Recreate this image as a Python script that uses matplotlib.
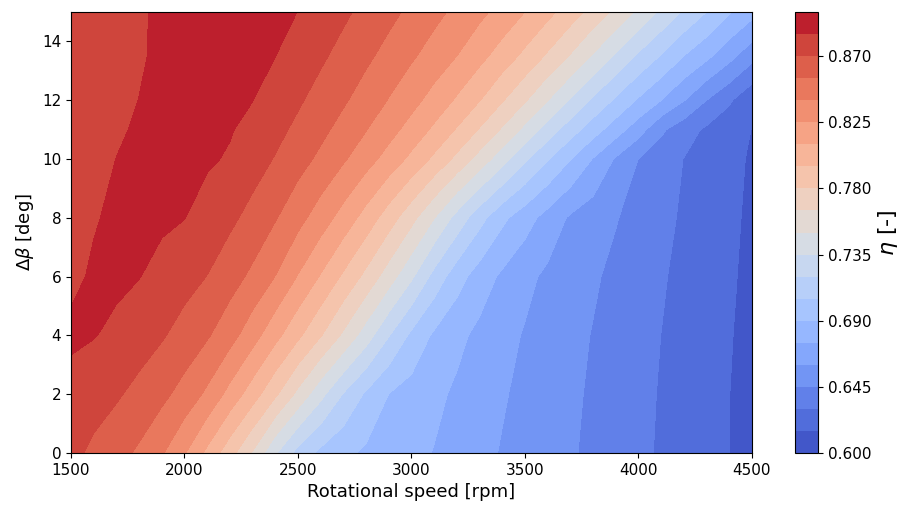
import numpy as np
import matplotlib
matplotlib.use('Agg')
import matplotlib.pyplot as plt

# ------------------------------------------------------------
# Data: efficiency eta on a rpm x dBeta grid
# ------------------------------------------------------------

rpm = [1500, 1600, 1700, 1800, 1900, 2000, 2100, 2200, 2300, 2400, 2500,
       2600, 2700, 2800, 2900, 3000, 3100, 3200, 3300, 3400, 3500,
       3600, 3700, 3800, 3900, 4000, 4100, 4200, 4300, 4400, 4500]

delta_beta = [0, 2, 4, 6, 8, 10, 11, 12, 13.5, 15]

eta_d0 = [0.8740, 0.8668, 0.8602, 0.8526, 0.8415, 0.8261, 0.8065, 0.7857, 0.7638, 0.7367, 0.7148,
          0.7013, 0.6933, 0.6875, 0.6831, 0.6788, 0.6744, 0.6692, 0.6639, 0.6590, 0.6548,
          0.6506, 0.6465, 0.6420, 0.6375, 0.6330, 0.6284, 0.6240, 0.6196, 0.6151, 0.6107]
eta_d2 = [0.8810, 0.8764, 0.8718, 0.8657, 0.8587, 0.8495, 0.8370, 0.8199, 0.8021, 0.7826, 0.7611,
          0.7394, 0.7190, 0.7027, 0.6898, 0.6840, 0.6783, 0.6726, 0.6670, 0.6613, 0.6566,
          0.6521, 0.6476, 0.6430, 0.6383, 0.6337, 0.6290, 0.6244, 0.6198, 0.6151, 0.6105]
eta_d4 = [0.8870, 0.8856, 0.8821, 0.8768, 0.8714, 0.8644, 0.8566, 0.8457, 0.8311, 0.8146, 0.7981,
          0.7810, 0.7623, 0.7423, 0.7207, 0.7017, 0.6875, 0.6787, 0.6713, 0.6648, 0.6588,
          0.6539, 0.6491, 0.6443, 0.6395, 0.6347, 0.6299, 0.6252, 0.6205, 0.6158, 0.6110]
eta_d6 = [0.8829, 0.8862, 0.8876, 0.8854, 0.8806, 0.8752, 0.8697, 0.8612, 0.8518, 0.8397, 0.8241,
          0.8087, 0.7925, 0.7758, 0.7572, 0.7374, 0.7149, 0.6962, 0.6828, 0.6723, 0.6638,
          0.6571, 0.6520, 0.6468, 0.6417, 0.6365, 0.6314, 0.6264, 0.6215, 0.6167, 0.6118]
eta_d8 = [0.8800, 0.8843, 0.8867, 0.8887, 0.8873, 0.8853, 0.8795, 0.8731, 0.8653, 0.8561, 0.8449,
          0.8326, 0.8191, 0.8041, 0.7873, 0.7697, 0.7504, 0.7298, 0.7103, 0.6934, 0.6814,
          0.6692, 0.6579, 0.6519, 0.6458, 0.6398, 0.6338, 0.6281, 0.6229, 0.6177, 0.6125]
eta_d10 = [0.8790, 0.8820, 0.8851, 0.8871, 0.8892, 0.8888, 0.8867, 0.8837, 0.8764, 0.8691, 0.8607,
           0.8518, 0.8418, 0.8310, 0.8193, 0.8063, 0.7918, 0.7761, 0.7593, 0.7411, 0.7226,
           0.7061, 0.6905, 0.6742, 0.6583, 0.6448, 0.6372, 0.6297, 0.6243, 0.6188, 0.6134]
eta_d11 = [0.8785, 0.8812, 0.8838, 0.8861, 0.8881, 0.8899, 0.8879, 0.8859, 0.8812, 0.8742, 0.8667,
           0.8587, 0.8499, 0.8405, 0.8304, 0.8194, 0.8072, 0.7937, 0.7788, 0.7631, 0.7460,
           0.7285, 0.7120, 0.6968, 0.6820, 0.6665, 0.6475, 0.6363, 0.6276, 0.6210, 0.6147]
eta_d12 = [0.8780, 0.8803, 0.8827, 0.8851, 0.8872, 0.8894, 0.8894, 0.8873, 0.8852, 0.8788, 0.8720,
           0.8646, 0.8569, 0.8483, 0.8393, 0.8298, 0.8195, 0.8080, 0.7955, 0.7812, 0.7665,
           0.7503, 0.7337, 0.7174, 0.7026, 0.6882, 0.6751, 0.6607, 0.6450, 0.6321, 0.6180]
eta_d13_5 = [0.8775, 0.8797, 0.8820, 0.8842, 0.8864, 0.8885, 0.8906, 0.8893, 0.8872, 0.8851, 0.8788,
             0.8723, 0.8653, 0.8579, 0.8501, 0.8420, 0.8335, 0.8249, 0.8144, 0.8033, 0.7912,
             0.7777, 0.7638, 0.7484, 0.7328, 0.7175, 0.7039, 0.6898, 0.6785, 0.6649, 0.6500]
eta_d15 = [0.8770, 0.8794, 0.8817, 0.8841, 0.8863, 0.8884, 0.8905, 0.8914, 0.8892, 0.8871, 0.8849,
           0.8788, 0.8726, 0.8660, 0.8590, 0.8517, 0.8442, 0.8365, 0.8286, 0.8197, 0.8099,
           0.7993, 0.7873, 0.7745, 0.7612, 0.7467, 0.7321, 0.7178, 0.7049, 0.6914, 0.6800]

# ------------------------------------------------------------
# Plot
# ------------------------------------------------------------

eta = np.array([eta_d0, eta_d2, eta_d4, eta_d6, eta_d8,
                eta_d10, eta_d11, eta_d12, eta_d13_5, eta_d15])
levels = np.linspace(0.600, 0.900, 21)

fig = plt.figure(figsize=(9.02, 5.05), dpi=100)
ax = fig.add_axes([71 / 902, 52 / 505, 681 / 902, 441 / 505])
cax = fig.add_axes([795 / 902, 52 / 505, 23 / 902, 441 / 505])

cs = ax.contourf(rpm, delta_beta, eta, levels=levels, cmap='coolwarm')

ax.set_xlim(1500, 4500)
ax.set_ylim(0, 15)
ax.set_xticks([1500, 2000, 2500, 3000, 3500, 4000, 4500])
ax.set_yticks([0, 2, 4, 6, 8, 10, 12, 14])
ax.tick_params(labelsize=11)
ax.set_xlabel('Rotational speed [rpm]', fontsize=13)
ax.set_ylabel(r'$\Delta\beta$ [deg]', fontsize=13)

cb = fig.colorbar(cs, cax=cax)
cb.ax.tick_params(labelsize=11)
cb.set_label(r'$\eta$ [-]', fontsize=16, labelpad=3)

fig.savefig('out.png', dpi=100)
